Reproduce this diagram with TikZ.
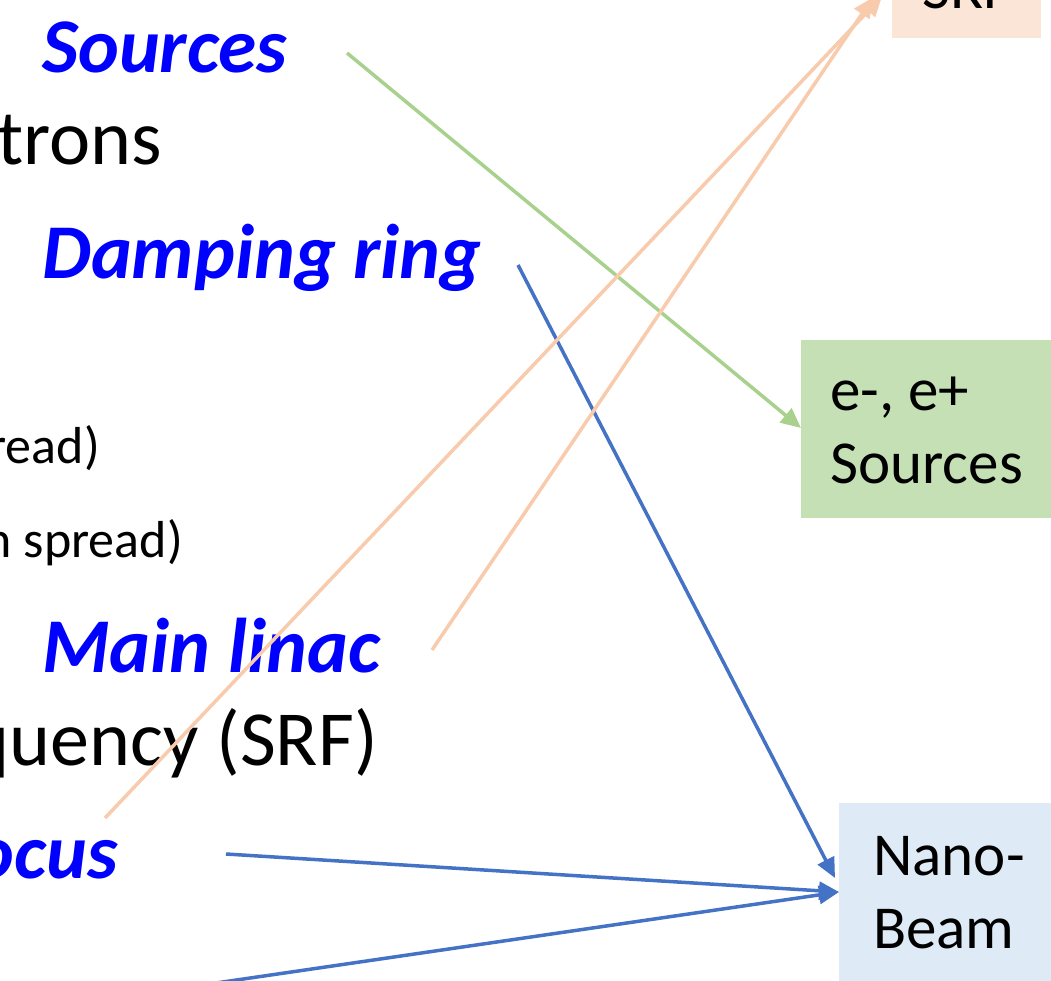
\documentclass[tikz,border=0pt]{standalone}
\usepackage{fontspec}
\setmainfont{Carlito}
\usetikzlibrary{arrows.meta,calc}
\definecolor{bluetxt}{RGB}{0,0,255}
\definecolor{lnblue}{RGB}{68,114,196}
\definecolor{lngreen}{RGB}{169,209,142}
\definecolor{lnpeach}{RGB}{248,203,173}
\definecolor{fpeach}{RGB}{251,229,214}
\definecolor{fgreen}{RGB}{197,224,180}
\definecolor{fblue}{RGB}{222,235,247}
\begin{document}
\begin{tikzpicture}[x=1pt,y=-1pt,
  head/.style={font=\fontsize{77.5}{92}\selectfont\bfseries\itshape, text=bluetxt, inner sep=0pt, anchor=base west},
  headE/.style={head, anchor=base east},
  bodytxt/.style={font=\fontsize{78}{94}\selectfont, inner sep=0pt, anchor=base east},
  smalltxt/.style={font=\fontsize{52}{62}\selectfont, inner sep=0pt, anchor=base east},
  boxn/.style={draw=none, inner sep=0pt, anchor=north west},
  boxtxt/.style={font=\fontsize{61}{73}\selectfont, inner sep=0pt, anchor=base west},
  conn/.style={line width=3.5pt, -{Triangle[length=20pt,width=18pt]}}
]
\useasboundingbox (0,0) rectangle (1051,981);
\clip (0,0) rectangle (1051,981);

% left column texts
\node[head] (hsrc) at (42,73) {Sources};
\node[bodytxt] (trons) at (162,165) {trons};
\node[head] (hdr) at (42,279) {Damping ring};
\node[smalltxt] (sp1) at (100,463) {read)};
\node[smalltxt] (sp2) at (183,557) {n spread)};
\node[head] (hml) at (42,672) {Main linac};
\node[bodytxt] (srfq) at (378,765) {quency (SRF)};
\node[headE] (hfoc) at (118,878) {ocus};

% boxes
\node[boxn, fill=fpeach, minimum width=149pt, minimum height=138pt] (bsrf) at (892,-100) {};
\node[boxtxt] (tsrf) at (922,9) {SRF};
\node[boxn, fill=fgreen, minimum width=260pt, minimum height=178pt] (bee) at (801,340) {};
\node[boxtxt] (tee1) at (830,410) {e-, e+};
\node[boxtxt] (tee2) at (830,483) {Sources};
\node[boxn, fill=fblue, minimum width=230pt, minimum height=200pt] (bnano) at (839,803) {};
\node[boxtxt] (tnano1) at (873,875) {Nano-};
\node[boxtxt] (tnano2) at (873,948) {Beam};

% free ends
\coordinate (gstart) at (347,53);
\coordinate (b1start) at (518,265);
\coordinate (b2start) at (226,854);
\coordinate (b3start) at (168,990);
\coordinate (p1start) at (105,818);
\coordinate (p2start) at (432,650);

% connectors
\draw[conn, lngreen] (gstart) -- ($(bee.north west)+(0,88)$);
\draw[conn, lnblue] (b1start) -- ($(bnano.north west)+(-4,75)$);
\draw[conn, lnblue] (b2start) -- ($(bnano.north west)+(0,89)$);
\draw[conn, lnblue] (b3start) -- ($(bnano.north west)+(0,89)$);
\draw[conn, lnpeach] (p1start) -- ($(bsrf.south west)+(-10,-42)$);
\draw[conn, lnpeach] (p2start) -- ($(bsrf.south west)+(-19,-41)$);
\end{tikzpicture}
\end{document}
